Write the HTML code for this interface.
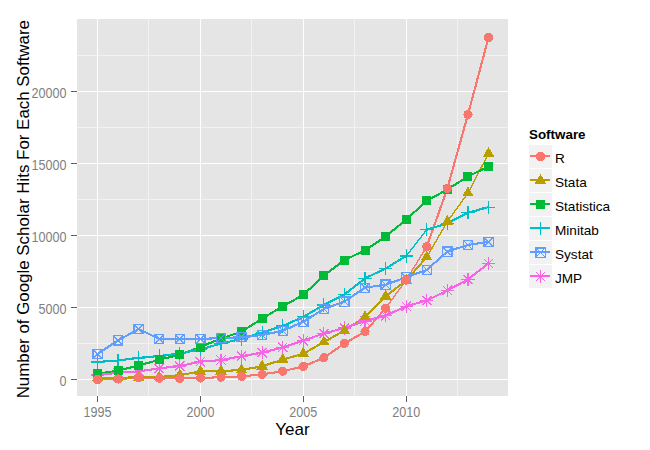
<!DOCTYPE html>
<html><head><meta charset="utf-8"><style>html,body{margin:0;padding:0;background:#fff;width:650px;height:450px;overflow:hidden}svg{display:block}</style></head>
<body><svg width="650" height="450" viewBox="0 0 650 450" shape-rendering="crispEdges"><rect x="0" y="0" width="650" height="450" fill="#FFFFFF"/>
<rect x="77" y="19" width="431" height="377" fill="#E5E5E5"/>
<line x1="148.5" y1="19" x2="148.5" y2="396" stroke="#F2F2F2" stroke-width="1" shape-rendering="crispEdges"/>
<line x1="251.5" y1="19" x2="251.5" y2="396" stroke="#F2F2F2" stroke-width="1" shape-rendering="crispEdges"/>
<line x1="354.5" y1="19" x2="354.5" y2="396" stroke="#F2F2F2" stroke-width="1" shape-rendering="crispEdges"/>
<line x1="457.5" y1="19" x2="457.5" y2="396" stroke="#F2F2F2" stroke-width="1" shape-rendering="crispEdges"/>
<line x1="77" y1="343.5" x2="508" y2="343.5" stroke="#F2F2F2" stroke-width="1" shape-rendering="crispEdges"/>
<line x1="77" y1="271.5" x2="508" y2="271.5" stroke="#F2F2F2" stroke-width="1" shape-rendering="crispEdges"/>
<line x1="77" y1="199.5" x2="508" y2="199.5" stroke="#F2F2F2" stroke-width="1" shape-rendering="crispEdges"/>
<line x1="77" y1="127.5" x2="508" y2="127.5" stroke="#F2F2F2" stroke-width="1" shape-rendering="crispEdges"/>
<line x1="77" y1="55.5" x2="508" y2="55.5" stroke="#F2F2F2" stroke-width="1" shape-rendering="crispEdges"/>
<line x1="97.5" y1="19" x2="97.5" y2="396" stroke="#FFFFFF" stroke-width="1" shape-rendering="crispEdges"/>
<line x1="200.5" y1="19" x2="200.5" y2="396" stroke="#FFFFFF" stroke-width="1" shape-rendering="crispEdges"/>
<line x1="303.5" y1="19" x2="303.5" y2="396" stroke="#FFFFFF" stroke-width="1" shape-rendering="crispEdges"/>
<line x1="406.5" y1="19" x2="406.5" y2="396" stroke="#FFFFFF" stroke-width="1" shape-rendering="crispEdges"/>
<line x1="77" y1="379.5" x2="508" y2="379.5" stroke="#FFFFFF" stroke-width="1" shape-rendering="crispEdges"/>
<line x1="77" y1="307.5" x2="508" y2="307.5" stroke="#FFFFFF" stroke-width="1" shape-rendering="crispEdges"/>
<line x1="77" y1="235.5" x2="508" y2="235.5" stroke="#FFFFFF" stroke-width="1" shape-rendering="crispEdges"/>
<line x1="77" y1="163.5" x2="508" y2="163.5" stroke="#FFFFFF" stroke-width="1" shape-rendering="crispEdges"/>
<line x1="77" y1="91.5" x2="508" y2="91.5" stroke="#FFFFFF" stroke-width="1" shape-rendering="crispEdges"/>
<g stroke="#F8766D" stroke-linecap="round"><line x1="97.50" y1="379.50" x2="118.08" y2="379.00" stroke-width="2.1"/><line x1="118.08" y1="379.00" x2="138.66" y2="377.80" stroke-width="2.1"/><line x1="138.66" y1="377.80" x2="159.24" y2="378.20" stroke-width="2.1"/><line x1="159.24" y1="378.20" x2="179.82" y2="378.50" stroke-width="2.1"/><line x1="179.82" y1="378.50" x2="200.40" y2="378.00" stroke-width="2.1"/><line x1="200.40" y1="378.00" x2="220.98" y2="377.20" stroke-width="2.1"/><line x1="220.98" y1="377.20" x2="241.56" y2="376.40" stroke-width="2.1"/><line x1="241.56" y1="376.40" x2="262.14" y2="374.40" stroke-width="2.1"/><line x1="262.14" y1="374.40" x2="282.72" y2="371.20" stroke-width="2.1"/><line x1="282.72" y1="371.20" x2="303.30" y2="366.40" stroke-width="2.1"/><line x1="303.30" y1="366.40" x2="323.88" y2="357.80" stroke-width="2.1"/><line x1="323.88" y1="357.80" x2="344.46" y2="343.40" stroke-width="2.1"/><line x1="344.46" y1="343.40" x2="365.04" y2="331.70" stroke-width="2.1"/><line x1="365.04" y1="331.70" x2="385.62" y2="308.20" stroke-width="2.1"/><line x1="385.62" y1="308.20" x2="406.20" y2="280.10" stroke-width="1.4"/><line x1="406.20" y1="280.10" x2="426.78" y2="246.50" stroke-width="1.4"/><line x1="426.78" y1="246.50" x2="447.36" y2="188.50" stroke-width="2.1"/><line x1="447.36" y1="188.50" x2="467.94" y2="114.50" stroke-width="2.1"/><line x1="467.94" y1="114.50" x2="488.52" y2="37.50" stroke-width="2.1"/></g>
<g stroke="#B79F00" stroke-linecap="round"><line x1="97.50" y1="378.00" x2="118.08" y2="377.80" stroke-width="2.1"/><line x1="118.08" y1="377.80" x2="138.66" y2="377.30" stroke-width="2.1"/><line x1="138.66" y1="377.30" x2="159.24" y2="377.00" stroke-width="2.1"/><line x1="159.24" y1="377.00" x2="179.82" y2="375.10" stroke-width="2.1"/><line x1="179.82" y1="375.10" x2="200.40" y2="371.50" stroke-width="2.1"/><line x1="200.40" y1="371.50" x2="220.98" y2="371.20" stroke-width="2.1"/><line x1="220.98" y1="371.20" x2="241.56" y2="369.90" stroke-width="2.1"/><line x1="241.56" y1="369.90" x2="262.14" y2="366.30" stroke-width="2.1"/><line x1="262.14" y1="366.30" x2="282.72" y2="359.60" stroke-width="2.1"/><line x1="282.72" y1="359.60" x2="303.30" y2="353.70" stroke-width="2.1"/><line x1="303.30" y1="353.70" x2="323.88" y2="342.10" stroke-width="2.1"/><line x1="323.88" y1="342.10" x2="344.46" y2="330.50" stroke-width="2.1"/><line x1="344.46" y1="330.50" x2="365.04" y2="317.00" stroke-width="2.1"/><line x1="365.04" y1="317.00" x2="385.62" y2="296.30" stroke-width="2.1"/><line x1="385.62" y1="296.30" x2="406.20" y2="280.50" stroke-width="2.1"/><line x1="406.20" y1="280.50" x2="426.78" y2="257.00" stroke-width="2.1"/><line x1="426.78" y1="257.00" x2="447.36" y2="221.60" stroke-width="1.4"/><line x1="447.36" y1="221.60" x2="467.94" y2="193.10" stroke-width="1.4"/><line x1="467.94" y1="193.10" x2="488.52" y2="153.50" stroke-width="1.4"/></g>
<g stroke="#00BA38" stroke-linecap="round"><line x1="97.50" y1="373.60" x2="118.08" y2="370.70" stroke-width="2.1"/><line x1="118.08" y1="370.70" x2="138.66" y2="365.50" stroke-width="2.1"/><line x1="138.66" y1="365.50" x2="159.24" y2="359.70" stroke-width="2.1"/><line x1="159.24" y1="359.70" x2="179.82" y2="354.70" stroke-width="2.1"/><line x1="179.82" y1="354.70" x2="200.40" y2="347.00" stroke-width="2.1"/><line x1="200.40" y1="347.00" x2="220.98" y2="338.50" stroke-width="2.1"/><line x1="220.98" y1="338.50" x2="241.56" y2="331.70" stroke-width="2.1"/><line x1="241.56" y1="331.70" x2="262.14" y2="318.50" stroke-width="2.1"/><line x1="262.14" y1="318.50" x2="282.72" y2="306.40" stroke-width="2.1"/><line x1="282.72" y1="306.40" x2="303.30" y2="294.80" stroke-width="2.1"/><line x1="303.30" y1="294.80" x2="323.88" y2="275.60" stroke-width="2.1"/><line x1="323.88" y1="275.60" x2="344.46" y2="260.00" stroke-width="2.1"/><line x1="344.46" y1="260.00" x2="365.04" y2="250.30" stroke-width="2.1"/><line x1="365.04" y1="250.30" x2="385.62" y2="236.50" stroke-width="2.1"/><line x1="385.62" y1="236.50" x2="406.20" y2="219.60" stroke-width="2.1"/><line x1="406.20" y1="219.60" x2="426.78" y2="200.70" stroke-width="2.1"/><line x1="426.78" y1="200.70" x2="447.36" y2="189.50" stroke-width="2.1"/><line x1="447.36" y1="189.50" x2="467.94" y2="176.40" stroke-width="2.1"/><line x1="467.94" y1="176.40" x2="488.52" y2="166.50" stroke-width="2.1"/></g>
<g stroke="#00BFC4" stroke-linecap="round"><line x1="97.50" y1="362.00" x2="118.08" y2="360.50" stroke-width="2.1"/><line x1="118.08" y1="360.50" x2="138.66" y2="357.90" stroke-width="2.1"/><line x1="138.66" y1="357.90" x2="159.24" y2="356.00" stroke-width="2.1"/><line x1="159.24" y1="356.00" x2="179.82" y2="353.50" stroke-width="2.1"/><line x1="179.82" y1="353.50" x2="200.40" y2="349.50" stroke-width="2.1"/><line x1="200.40" y1="349.50" x2="220.98" y2="343.50" stroke-width="2.1"/><line x1="220.98" y1="343.50" x2="241.56" y2="339.00" stroke-width="2.1"/><line x1="241.56" y1="339.00" x2="262.14" y2="332.50" stroke-width="2.1"/><line x1="262.14" y1="332.50" x2="282.72" y2="326.00" stroke-width="2.1"/><line x1="282.72" y1="326.00" x2="303.30" y2="316.80" stroke-width="2.1"/><line x1="303.30" y1="316.80" x2="323.88" y2="305.00" stroke-width="2.1"/><line x1="323.88" y1="305.00" x2="344.46" y2="294.40" stroke-width="2.1"/><line x1="344.46" y1="294.40" x2="365.04" y2="278.30" stroke-width="2.1"/><line x1="365.04" y1="278.30" x2="385.62" y2="268.50" stroke-width="2.1"/><line x1="385.62" y1="268.50" x2="406.20" y2="256.00" stroke-width="2.1"/><line x1="406.20" y1="256.00" x2="426.78" y2="229.70" stroke-width="1.4"/><line x1="426.78" y1="229.70" x2="447.36" y2="223.30" stroke-width="2.1"/><line x1="447.36" y1="223.30" x2="467.94" y2="212.80" stroke-width="2.1"/><line x1="467.94" y1="212.80" x2="488.52" y2="207.10" stroke-width="2.1"/></g>
<g stroke="#619CFF" stroke-linecap="round"><line x1="97.50" y1="354.00" x2="118.08" y2="340.40" stroke-width="2.1"/><line x1="118.08" y1="340.40" x2="138.66" y2="329.00" stroke-width="2.1"/><line x1="138.66" y1="329.00" x2="159.24" y2="339.00" stroke-width="2.1"/><line x1="159.24" y1="339.00" x2="179.82" y2="339.00" stroke-width="2.1"/><line x1="179.82" y1="339.00" x2="200.40" y2="338.90" stroke-width="2.1"/><line x1="200.40" y1="338.90" x2="220.98" y2="338.10" stroke-width="2.1"/><line x1="220.98" y1="338.10" x2="241.56" y2="337.20" stroke-width="2.1"/><line x1="241.56" y1="337.20" x2="262.14" y2="335.00" stroke-width="2.1"/><line x1="262.14" y1="335.00" x2="282.72" y2="330.80" stroke-width="2.1"/><line x1="282.72" y1="330.80" x2="303.30" y2="321.80" stroke-width="2.1"/><line x1="303.30" y1="321.80" x2="323.88" y2="308.90" stroke-width="2.1"/><line x1="323.88" y1="308.90" x2="344.46" y2="301.50" stroke-width="2.1"/><line x1="344.46" y1="301.50" x2="365.04" y2="287.70" stroke-width="2.1"/><line x1="365.04" y1="287.70" x2="385.62" y2="284.60" stroke-width="2.1"/><line x1="385.62" y1="284.60" x2="406.20" y2="277.40" stroke-width="2.1"/><line x1="406.20" y1="277.40" x2="426.78" y2="269.80" stroke-width="2.1"/><line x1="426.78" y1="269.80" x2="447.36" y2="251.50" stroke-width="2.1"/><line x1="447.36" y1="251.50" x2="467.94" y2="245.00" stroke-width="2.1"/><line x1="467.94" y1="245.00" x2="488.52" y2="241.80" stroke-width="2.1"/></g>
<g stroke="#F564E3" stroke-linecap="round"><line x1="97.50" y1="375.00" x2="118.08" y2="372.80" stroke-width="2.1"/><line x1="118.08" y1="372.80" x2="138.66" y2="371.30" stroke-width="2.1"/><line x1="138.66" y1="371.30" x2="159.24" y2="368.40" stroke-width="2.1"/><line x1="159.24" y1="368.40" x2="179.82" y2="366.00" stroke-width="2.1"/><line x1="179.82" y1="366.00" x2="200.40" y2="361.70" stroke-width="2.1"/><line x1="200.40" y1="361.70" x2="220.98" y2="360.10" stroke-width="2.1"/><line x1="220.98" y1="360.10" x2="241.56" y2="356.20" stroke-width="2.1"/><line x1="241.56" y1="356.20" x2="262.14" y2="352.70" stroke-width="2.1"/><line x1="262.14" y1="352.70" x2="282.72" y2="347.40" stroke-width="2.1"/><line x1="282.72" y1="347.40" x2="303.30" y2="340.60" stroke-width="2.1"/><line x1="303.30" y1="340.60" x2="323.88" y2="333.50" stroke-width="2.1"/><line x1="323.88" y1="333.50" x2="344.46" y2="328.00" stroke-width="2.1"/><line x1="344.46" y1="328.00" x2="365.04" y2="321.00" stroke-width="2.1"/><line x1="365.04" y1="321.00" x2="385.62" y2="315.70" stroke-width="2.1"/><line x1="385.62" y1="315.70" x2="406.20" y2="306.20" stroke-width="2.1"/><line x1="406.20" y1="306.20" x2="426.78" y2="300.50" stroke-width="2.1"/><line x1="426.78" y1="300.50" x2="447.36" y2="290.40" stroke-width="2.1"/><line x1="447.36" y1="290.40" x2="467.94" y2="279.40" stroke-width="2.1"/><line x1="467.94" y1="279.40" x2="488.52" y2="263.40" stroke-width="2.1"/></g>
<path d="M90.90 375.00H104.10M97.50 368.40V381.60M92.90 370.40L102.10 379.60M102.10 370.40L92.90 379.60" stroke="#F564E3" stroke-width="1.2" fill="none"/>
<path d="M111.48 372.80H124.68M118.08 366.20V379.40M113.48 368.20L122.68 377.40M122.68 368.20L113.48 377.40" stroke="#F564E3" stroke-width="1.2" fill="none"/>
<path d="M132.06 371.30H145.26M138.66 364.70V377.90M134.06 366.70L143.26 375.90M143.26 366.70L134.06 375.90" stroke="#F564E3" stroke-width="1.2" fill="none"/>
<path d="M152.64 368.40H165.84M159.24 361.80V375.00M154.64 363.80L163.84 373.00M163.84 363.80L154.64 373.00" stroke="#F564E3" stroke-width="1.2" fill="none"/>
<path d="M173.22 366.00H186.42M179.82 359.40V372.60M175.22 361.40L184.42 370.60M184.42 361.40L175.22 370.60" stroke="#F564E3" stroke-width="1.2" fill="none"/>
<path d="M193.80 361.70H207.00M200.40 355.10V368.30M195.80 357.10L205.00 366.30M205.00 357.10L195.80 366.30" stroke="#F564E3" stroke-width="1.2" fill="none"/>
<path d="M214.38 360.10H227.58M220.98 353.50V366.70M216.38 355.50L225.58 364.70M225.58 355.50L216.38 364.70" stroke="#F564E3" stroke-width="1.2" fill="none"/>
<path d="M234.96 356.20H248.16M241.56 349.60V362.80M236.96 351.60L246.16 360.80M246.16 351.60L236.96 360.80" stroke="#F564E3" stroke-width="1.2" fill="none"/>
<path d="M255.54 352.70H268.74M262.14 346.10V359.30M257.54 348.10L266.74 357.30M266.74 348.10L257.54 357.30" stroke="#F564E3" stroke-width="1.2" fill="none"/>
<path d="M276.12 347.40H289.32M282.72 340.80V354.00M278.12 342.80L287.32 352.00M287.32 342.80L278.12 352.00" stroke="#F564E3" stroke-width="1.2" fill="none"/>
<path d="M296.70 340.60H309.90M303.30 334.00V347.20M298.70 336.00L307.90 345.20M307.90 336.00L298.70 345.20" stroke="#F564E3" stroke-width="1.2" fill="none"/>
<path d="M317.28 333.50H330.48M323.88 326.90V340.10M319.28 328.90L328.48 338.10M328.48 328.90L319.28 338.10" stroke="#F564E3" stroke-width="1.2" fill="none"/>
<path d="M337.86 328.00H351.06M344.46 321.40V334.60M339.86 323.40L349.06 332.60M349.06 323.40L339.86 332.60" stroke="#F564E3" stroke-width="1.2" fill="none"/>
<path d="M358.44 321.00H371.64M365.04 314.40V327.60M360.44 316.40L369.64 325.60M369.64 316.40L360.44 325.60" stroke="#F564E3" stroke-width="1.2" fill="none"/>
<path d="M379.02 315.70H392.22M385.62 309.10V322.30M381.02 311.10L390.22 320.30M390.22 311.10L381.02 320.30" stroke="#F564E3" stroke-width="1.2" fill="none"/>
<path d="M399.60 306.20H412.80M406.20 299.60V312.80M401.60 301.60L410.80 310.80M410.80 301.60L401.60 310.80" stroke="#F564E3" stroke-width="1.2" fill="none"/>
<path d="M420.18 300.50H433.38M426.78 293.90V307.10M422.18 295.90L431.38 305.10M431.38 295.90L422.18 305.10" stroke="#F564E3" stroke-width="1.2" fill="none"/>
<path d="M440.76 290.40H453.96M447.36 283.80V297.00M442.76 285.80L451.96 295.00M451.96 285.80L442.76 295.00" stroke="#F564E3" stroke-width="1.2" fill="none"/>
<path d="M461.34 279.40H474.54M467.94 272.80V286.00M463.34 274.80L472.54 284.00M472.54 274.80L463.34 284.00" stroke="#F564E3" stroke-width="1.2" fill="none"/>
<path d="M481.92 263.40H495.12M488.52 256.80V270.00M483.92 258.80L493.12 268.00M493.12 258.80L483.92 268.00" stroke="#F564E3" stroke-width="1.2" fill="none"/>
<path d="M90.90 362.00H104.10M97.50 355.40V368.60" stroke="#00BFC4" stroke-width="1.2" fill="none"/>
<path d="M111.48 360.50H124.68M118.08 353.90V367.10" stroke="#00BFC4" stroke-width="1.2" fill="none"/>
<path d="M132.06 357.90H145.26M138.66 351.30V364.50" stroke="#00BFC4" stroke-width="1.2" fill="none"/>
<path d="M152.64 356.00H165.84M159.24 349.40V362.60" stroke="#00BFC4" stroke-width="1.2" fill="none"/>
<path d="M173.22 353.50H186.42M179.82 346.90V360.10" stroke="#00BFC4" stroke-width="1.2" fill="none"/>
<path d="M193.80 349.50H207.00M200.40 342.90V356.10" stroke="#00BFC4" stroke-width="1.2" fill="none"/>
<path d="M214.38 343.50H227.58M220.98 336.90V350.10" stroke="#00BFC4" stroke-width="1.2" fill="none"/>
<path d="M234.96 339.00H248.16M241.56 332.40V345.60" stroke="#00BFC4" stroke-width="1.2" fill="none"/>
<path d="M255.54 332.50H268.74M262.14 325.90V339.10" stroke="#00BFC4" stroke-width="1.2" fill="none"/>
<path d="M276.12 326.00H289.32M282.72 319.40V332.60" stroke="#00BFC4" stroke-width="1.2" fill="none"/>
<path d="M296.70 316.80H309.90M303.30 310.20V323.40" stroke="#00BFC4" stroke-width="1.2" fill="none"/>
<path d="M317.28 305.00H330.48M323.88 298.40V311.60" stroke="#00BFC4" stroke-width="1.2" fill="none"/>
<path d="M337.86 294.40H351.06M344.46 287.80V301.00" stroke="#00BFC4" stroke-width="1.2" fill="none"/>
<path d="M358.44 278.30H371.64M365.04 271.70V284.90" stroke="#00BFC4" stroke-width="1.2" fill="none"/>
<path d="M379.02 268.50H392.22M385.62 261.90V275.10" stroke="#00BFC4" stroke-width="1.2" fill="none"/>
<path d="M399.60 256.00H412.80M406.20 249.40V262.60" stroke="#00BFC4" stroke-width="1.2" fill="none"/>
<path d="M420.18 229.70H433.38M426.78 223.10V236.30" stroke="#00BFC4" stroke-width="1.2" fill="none"/>
<path d="M440.76 223.30H453.96M447.36 216.70V229.90" stroke="#00BFC4" stroke-width="1.2" fill="none"/>
<path d="M461.34 212.80H474.54M467.94 206.20V219.40" stroke="#00BFC4" stroke-width="1.2" fill="none"/>
<path d="M481.92 207.10H495.12M488.52 200.50V213.70" stroke="#00BFC4" stroke-width="1.2" fill="none"/>
<path d="M97.50 371.33L103.28 381.33L91.72 381.33Z" fill="#B79F00"/>
<path d="M118.08 371.13L123.86 381.13L112.30 381.13Z" fill="#B79F00"/>
<path d="M138.66 370.63L144.44 380.63L132.88 380.63Z" fill="#B79F00"/>
<path d="M159.24 370.33L165.02 380.33L153.46 380.33Z" fill="#B79F00"/>
<path d="M179.82 368.43L185.60 378.44L174.04 378.44Z" fill="#B79F00"/>
<path d="M200.40 364.83L206.18 374.83L194.62 374.83Z" fill="#B79F00"/>
<path d="M220.98 364.53L226.76 374.53L215.20 374.53Z" fill="#B79F00"/>
<path d="M241.56 363.23L247.34 373.23L235.78 373.23Z" fill="#B79F00"/>
<path d="M262.14 359.63L267.92 369.63L256.36 369.63Z" fill="#B79F00"/>
<path d="M282.72 352.93L288.50 362.94L276.94 362.94Z" fill="#B79F00"/>
<path d="M303.30 347.03L309.08 357.03L297.52 357.03Z" fill="#B79F00"/>
<path d="M323.88 335.43L329.66 345.44L318.10 345.44Z" fill="#B79F00"/>
<path d="M344.46 323.83L350.24 333.83L338.68 333.83Z" fill="#B79F00"/>
<path d="M365.04 310.33L370.82 320.33L359.26 320.33Z" fill="#B79F00"/>
<path d="M385.62 289.63L391.40 299.63L379.84 299.63Z" fill="#B79F00"/>
<path d="M406.20 273.83L411.98 283.83L400.42 283.83Z" fill="#B79F00"/>
<path d="M426.78 250.33L432.56 260.33L421.00 260.33Z" fill="#B79F00"/>
<path d="M447.36 214.93L453.14 224.94L441.58 224.94Z" fill="#B79F00"/>
<path d="M467.94 186.43L473.72 196.44L462.16 196.44Z" fill="#B79F00"/>
<path d="M488.52 146.83L494.30 156.84L482.74 156.84Z" fill="#B79F00"/>
<rect x="93.00" y="369.10" width="9" height="9" fill="#00BA38"/>
<rect x="113.58" y="366.20" width="9" height="9" fill="#00BA38"/>
<rect x="134.16" y="361.00" width="9" height="9" fill="#00BA38"/>
<rect x="154.74" y="355.20" width="9" height="9" fill="#00BA38"/>
<rect x="175.32" y="350.20" width="9" height="9" fill="#00BA38"/>
<rect x="195.90" y="342.50" width="9" height="9" fill="#00BA38"/>
<rect x="216.48" y="334.00" width="9" height="9" fill="#00BA38"/>
<rect x="237.06" y="327.20" width="9" height="9" fill="#00BA38"/>
<rect x="257.64" y="314.00" width="9" height="9" fill="#00BA38"/>
<rect x="278.22" y="301.90" width="9" height="9" fill="#00BA38"/>
<rect x="298.80" y="290.30" width="9" height="9" fill="#00BA38"/>
<rect x="319.38" y="271.10" width="9" height="9" fill="#00BA38"/>
<rect x="339.96" y="255.50" width="9" height="9" fill="#00BA38"/>
<rect x="360.54" y="245.80" width="9" height="9" fill="#00BA38"/>
<rect x="381.12" y="232.00" width="9" height="9" fill="#00BA38"/>
<rect x="401.70" y="215.10" width="9" height="9" fill="#00BA38"/>
<rect x="422.28" y="196.20" width="9" height="9" fill="#00BA38"/>
<rect x="442.86" y="185.00" width="9" height="9" fill="#00BA38"/>
<rect x="463.44" y="171.90" width="9" height="9" fill="#00BA38"/>
<rect x="484.02" y="162.00" width="9" height="9" fill="#00BA38"/>
<path d="M92.90 349.40H102.10V358.60H92.90ZM92.90 349.40L102.10 358.60M102.10 349.40L92.90 358.60" stroke="#619CFF" stroke-width="1.2" fill="none"/>
<path d="M113.48 335.80H122.68V345.00H113.48ZM113.48 335.80L122.68 345.00M122.68 335.80L113.48 345.00" stroke="#619CFF" stroke-width="1.2" fill="none"/>
<path d="M134.06 324.40H143.26V333.60H134.06ZM134.06 324.40L143.26 333.60M143.26 324.40L134.06 333.60" stroke="#619CFF" stroke-width="1.2" fill="none"/>
<path d="M154.64 334.40H163.84V343.60H154.64ZM154.64 334.40L163.84 343.60M163.84 334.40L154.64 343.60" stroke="#619CFF" stroke-width="1.2" fill="none"/>
<path d="M175.22 334.40H184.42V343.60H175.22ZM175.22 334.40L184.42 343.60M184.42 334.40L175.22 343.60" stroke="#619CFF" stroke-width="1.2" fill="none"/>
<path d="M195.80 334.30H205.00V343.50H195.80ZM195.80 334.30L205.00 343.50M205.00 334.30L195.80 343.50" stroke="#619CFF" stroke-width="1.2" fill="none"/>
<path d="M216.38 333.50H225.58V342.70H216.38ZM216.38 333.50L225.58 342.70M225.58 333.50L216.38 342.70" stroke="#619CFF" stroke-width="1.2" fill="none"/>
<path d="M236.96 332.60H246.16V341.80H236.96ZM236.96 332.60L246.16 341.80M246.16 332.60L236.96 341.80" stroke="#619CFF" stroke-width="1.2" fill="none"/>
<path d="M257.54 330.40H266.74V339.60H257.54ZM257.54 330.40L266.74 339.60M266.74 330.40L257.54 339.60" stroke="#619CFF" stroke-width="1.2" fill="none"/>
<path d="M278.12 326.20H287.32V335.40H278.12ZM278.12 326.20L287.32 335.40M287.32 326.20L278.12 335.40" stroke="#619CFF" stroke-width="1.2" fill="none"/>
<path d="M298.70 317.20H307.90V326.40H298.70ZM298.70 317.20L307.90 326.40M307.90 317.20L298.70 326.40" stroke="#619CFF" stroke-width="1.2" fill="none"/>
<path d="M319.28 304.30H328.48V313.50H319.28ZM319.28 304.30L328.48 313.50M328.48 304.30L319.28 313.50" stroke="#619CFF" stroke-width="1.2" fill="none"/>
<path d="M339.86 296.90H349.06V306.10H339.86ZM339.86 296.90L349.06 306.10M349.06 296.90L339.86 306.10" stroke="#619CFF" stroke-width="1.2" fill="none"/>
<path d="M360.44 283.10H369.64V292.30H360.44ZM360.44 283.10L369.64 292.30M369.64 283.10L360.44 292.30" stroke="#619CFF" stroke-width="1.2" fill="none"/>
<path d="M381.02 280.00H390.22V289.20H381.02ZM381.02 280.00L390.22 289.20M390.22 280.00L381.02 289.20" stroke="#619CFF" stroke-width="1.2" fill="none"/>
<path d="M401.60 272.80H410.80V282.00H401.60ZM401.60 272.80L410.80 282.00M410.80 272.80L401.60 282.00" stroke="#619CFF" stroke-width="1.2" fill="none"/>
<path d="M422.18 265.20H431.38V274.40H422.18ZM422.18 265.20L431.38 274.40M431.38 265.20L422.18 274.40" stroke="#619CFF" stroke-width="1.2" fill="none"/>
<path d="M442.76 246.90H451.96V256.10H442.76ZM442.76 246.90L451.96 256.10M451.96 246.90L442.76 256.10" stroke="#619CFF" stroke-width="1.2" fill="none"/>
<path d="M463.34 240.40H472.54V249.60H463.34ZM463.34 240.40L472.54 249.60M472.54 240.40L463.34 249.60" stroke="#619CFF" stroke-width="1.2" fill="none"/>
<path d="M483.92 237.20H493.12V246.40H483.92ZM483.92 237.20L493.12 246.40M493.12 237.20L483.92 246.40" stroke="#619CFF" stroke-width="1.2" fill="none"/>
<circle cx="97.50" cy="379.50" r="4.6" fill="#F8766D"/>
<circle cx="118.08" cy="379.00" r="4.6" fill="#F8766D"/>
<circle cx="138.66" cy="377.80" r="4.6" fill="#F8766D"/>
<circle cx="159.24" cy="378.20" r="4.6" fill="#F8766D"/>
<circle cx="179.82" cy="378.50" r="4.6" fill="#F8766D"/>
<circle cx="200.40" cy="378.00" r="4.6" fill="#F8766D"/>
<circle cx="220.98" cy="377.20" r="4.6" fill="#F8766D"/>
<circle cx="241.56" cy="376.40" r="4.6" fill="#F8766D"/>
<circle cx="262.14" cy="374.40" r="4.6" fill="#F8766D"/>
<circle cx="282.72" cy="371.20" r="4.6" fill="#F8766D"/>
<circle cx="303.30" cy="366.40" r="4.6" fill="#F8766D"/>
<circle cx="323.88" cy="357.80" r="4.6" fill="#F8766D"/>
<circle cx="344.46" cy="343.40" r="4.6" fill="#F8766D"/>
<circle cx="365.04" cy="331.70" r="4.6" fill="#F8766D"/>
<circle cx="385.62" cy="308.20" r="4.6" fill="#F8766D"/>
<circle cx="406.20" cy="280.10" r="4.6" fill="#F8766D"/>
<circle cx="426.78" cy="246.50" r="4.6" fill="#F8766D"/>
<circle cx="447.36" cy="188.50" r="4.6" fill="#F8766D"/>
<circle cx="467.94" cy="114.50" r="4.6" fill="#F8766D"/>
<circle cx="488.52" cy="37.50" r="4.6" fill="#F8766D"/>
<line x1="71" y1="379.5" x2="77" y2="379.5" stroke="#5E5E5E" stroke-width="1" shape-rendering="crispEdges"/>
<line x1="71" y1="307.5" x2="77" y2="307.5" stroke="#5E5E5E" stroke-width="1" shape-rendering="crispEdges"/>
<line x1="71" y1="235.5" x2="77" y2="235.5" stroke="#5E5E5E" stroke-width="1" shape-rendering="crispEdges"/>
<line x1="71" y1="163.5" x2="77" y2="163.5" stroke="#5E5E5E" stroke-width="1" shape-rendering="crispEdges"/>
<line x1="71" y1="91.5" x2="77" y2="91.5" stroke="#5E5E5E" stroke-width="1" shape-rendering="crispEdges"/>
<line x1="97.5" y1="396" x2="97.5" y2="402" stroke="#5E5E5E" stroke-width="1" shape-rendering="crispEdges"/>
<line x1="200.5" y1="396" x2="200.5" y2="402" stroke="#5E5E5E" stroke-width="1" shape-rendering="crispEdges"/>
<line x1="303.5" y1="396" x2="303.5" y2="402" stroke="#5E5E5E" stroke-width="1" shape-rendering="crispEdges"/>
<line x1="406.5" y1="396" x2="406.5" y2="402" stroke="#5E5E5E" stroke-width="1" shape-rendering="crispEdges"/>
<text x="66.5" y="385.80" font-family="Liberation Sans, sans-serif" font-size="13.8" fill="#7F7F7F" text-anchor="end" textLength="7" lengthAdjust="spacingAndGlyphs">0</text>
<text x="66.5" y="313.80" font-family="Liberation Sans, sans-serif" font-size="13.8" fill="#7F7F7F" text-anchor="end" textLength="28" lengthAdjust="spacingAndGlyphs">5000</text>
<text x="66.5" y="241.80" font-family="Liberation Sans, sans-serif" font-size="13.8" fill="#7F7F7F" text-anchor="end" textLength="35" lengthAdjust="spacingAndGlyphs">10000</text>
<text x="66.5" y="169.80" font-family="Liberation Sans, sans-serif" font-size="13.8" fill="#7F7F7F" text-anchor="end" textLength="35" lengthAdjust="spacingAndGlyphs">15000</text>
<text x="66.5" y="97.80" font-family="Liberation Sans, sans-serif" font-size="13.8" fill="#7F7F7F" text-anchor="end" textLength="35" lengthAdjust="spacingAndGlyphs">20000</text>
<text x="97.50" y="417" font-family="Liberation Sans, sans-serif" font-size="13.8" fill="#7F7F7F" text-anchor="middle" textLength="28" lengthAdjust="spacingAndGlyphs">1995</text>
<text x="200.40" y="417" font-family="Liberation Sans, sans-serif" font-size="13.8" fill="#7F7F7F" text-anchor="middle" textLength="28" lengthAdjust="spacingAndGlyphs">2000</text>
<text x="303.30" y="417" font-family="Liberation Sans, sans-serif" font-size="13.8" fill="#7F7F7F" text-anchor="middle" textLength="28" lengthAdjust="spacingAndGlyphs">2005</text>
<text x="406.20" y="417" font-family="Liberation Sans, sans-serif" font-size="13.8" fill="#7F7F7F" text-anchor="middle" textLength="28" lengthAdjust="spacingAndGlyphs">2010</text>
<text x="292.5" y="435" font-family="Liberation Sans, sans-serif" font-size="17" fill="#000000" text-anchor="middle">Year</text>
<text transform="translate(29,209.2) rotate(-90)" x="0" y="0" font-family="Liberation Sans, sans-serif" font-size="16.9" fill="#000000" text-anchor="middle">Number of Google Scholar Hits For Each Software</text>
<text x="529" y="138.5" font-family="Liberation Sans, sans-serif" font-size="13.4" font-weight="bold" fill="#000000">Software</text>
<rect x="529" y="145" width="23" height="23" fill="#F2F2F2"/>
<line x1="530" y1="156.20" x2="549.5" y2="156.20" stroke="#F8766D" stroke-width="2.1"/>
<circle cx="540.50" cy="156.50" r="4.6" fill="#F8766D"/>
<text x="555" y="163.00" font-family="Liberation Sans, sans-serif" font-size="13.6" fill="#000000">R</text>
<rect x="529" y="169" width="23" height="23" fill="#F2F2F2"/>
<line x1="530" y1="180.20" x2="549.5" y2="180.20" stroke="#B79F00" stroke-width="2.1"/>
<path d="M540.50 173.83L546.28 183.84L534.72 183.84Z" fill="#B79F00"/>
<text x="555" y="187.00" font-family="Liberation Sans, sans-serif" font-size="13.6" fill="#000000">Stata</text>
<rect x="529" y="193" width="23" height="23" fill="#F2F2F2"/>
<line x1="530" y1="204.20" x2="549.5" y2="204.20" stroke="#00BA38" stroke-width="2.1"/>
<rect x="536.00" y="200.00" width="9" height="9" fill="#00BA38"/>
<text x="555" y="211.00" font-family="Liberation Sans, sans-serif" font-size="13.6" fill="#000000">Statistica</text>
<rect x="529" y="217" width="23" height="23" fill="#F2F2F2"/>
<line x1="530" y1="228.20" x2="549.5" y2="228.20" stroke="#00BFC4" stroke-width="2.1"/>
<path d="M533.90 228.50H547.10M540.50 221.90V235.10" stroke="#00BFC4" stroke-width="1.2" fill="none"/>
<text x="555" y="235.00" font-family="Liberation Sans, sans-serif" font-size="13.6" fill="#000000">Minitab</text>
<rect x="529" y="241" width="23" height="23" fill="#F2F2F2"/>
<line x1="530" y1="252.20" x2="549.5" y2="252.20" stroke="#619CFF" stroke-width="2.1"/>
<path d="M535.90 247.90H545.10V257.10H535.90ZM535.90 247.90L545.10 257.10M545.10 247.90L535.90 257.10" stroke="#619CFF" stroke-width="1.2" fill="none"/>
<text x="555" y="259.00" font-family="Liberation Sans, sans-serif" font-size="13.6" fill="#000000">Systat</text>
<rect x="529" y="265" width="23" height="23" fill="#F2F2F2"/>
<line x1="530" y1="276.20" x2="549.5" y2="276.20" stroke="#F564E3" stroke-width="2.1"/>
<path d="M533.90 276.50H547.10M540.50 269.90V283.10M535.90 271.90L545.10 281.10M545.10 271.90L535.90 281.10" stroke="#F564E3" stroke-width="1.2" fill="none"/>
<text x="555" y="283.00" font-family="Liberation Sans, sans-serif" font-size="13.6" fill="#000000">JMP</text></svg></body></html>
